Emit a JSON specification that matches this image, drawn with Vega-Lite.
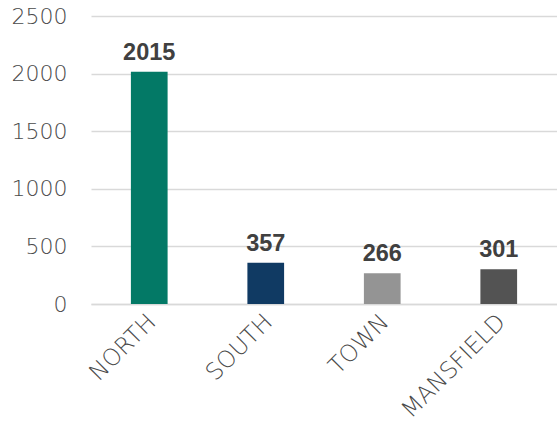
{
  "$schema": "https://vega.github.io/schema/vega-lite/v6.json",
  "width": 466,
  "height": 288,
  "autosize": "none",
  "padding": {"left": 91, "top": 16, "right": 0, "bottom": 119},
  "background": "white",
  "config": {"view": {"stroke": null}, "font": "DejaVu Sans"},
  "data": {"values": [
    {"region": "NORTH", "count": 2015},
    {"region": "SOUTH", "count": 357},
    {"region": "TOWN", "count": 266},
    {"region": "MANSFIELD", "count": 301}
  ]},
  "encoding": {
    "x": {
      "field": "region", "type": "nominal", "sort": null,
      "scale": {"paddingInner": 0.685, "paddingOuter": 0.3425},
      "axis": {
        "title": null, "labelAngle": -45, "labelAlign": "right", "labelBaseline": "alphabetic",
        "labelPadding": 19, "labelOffset": 8, "labelFont": "DejaVu Sans", "labelFontSize": 23.5, "labelColor": "#4a4a4a",
        "labelFontWeight": 300,
        "ticks": false, "domain": true, "domainColor": "#D9D9D9", "domainWidth": 1.5
      }
    },
    "y": {
      "field": "count", "type": "quantitative",
      "scale": {"domain": [0, 2500], "nice": false},
      "axis": {
        "title": null, "values": [0, 500, 1000, 1500, 2000, 2500], "format": "d",
        "domain": false, "ticks": false, "labelPadding": 24,
        "labelFont": "DejaVu Sans", "labelFontSize": 22, "labelColor": "#4a4a4a", "labelFontWeight": 300,
        "gridColor": "#D9D9D9", "gridWidth": 1.5
      }
    }
  },
  "layer": [
    {
      "mark": {"type": "bar"},
      "encoding": {
        "color": {
          "field": "region", "type": "nominal",
          "scale": {"domain": ["NORTH", "SOUTH", "TOWN", "MANSFIELD"], "range": ["#037966", "#103A63", "#949494", "#535353"]},
          "legend": null
        }
      }
    },
    {
      "mark": {"type": "text", "baseline": "alphabetic", "dy": -12, "font": "Liberation Sans", "fontWeight": "bold", "fontSize": 23.5, "color": "#404040"},
      "encoding": {"text": {"field": "count", "type": "quantitative"}}
    }
  ]
}
